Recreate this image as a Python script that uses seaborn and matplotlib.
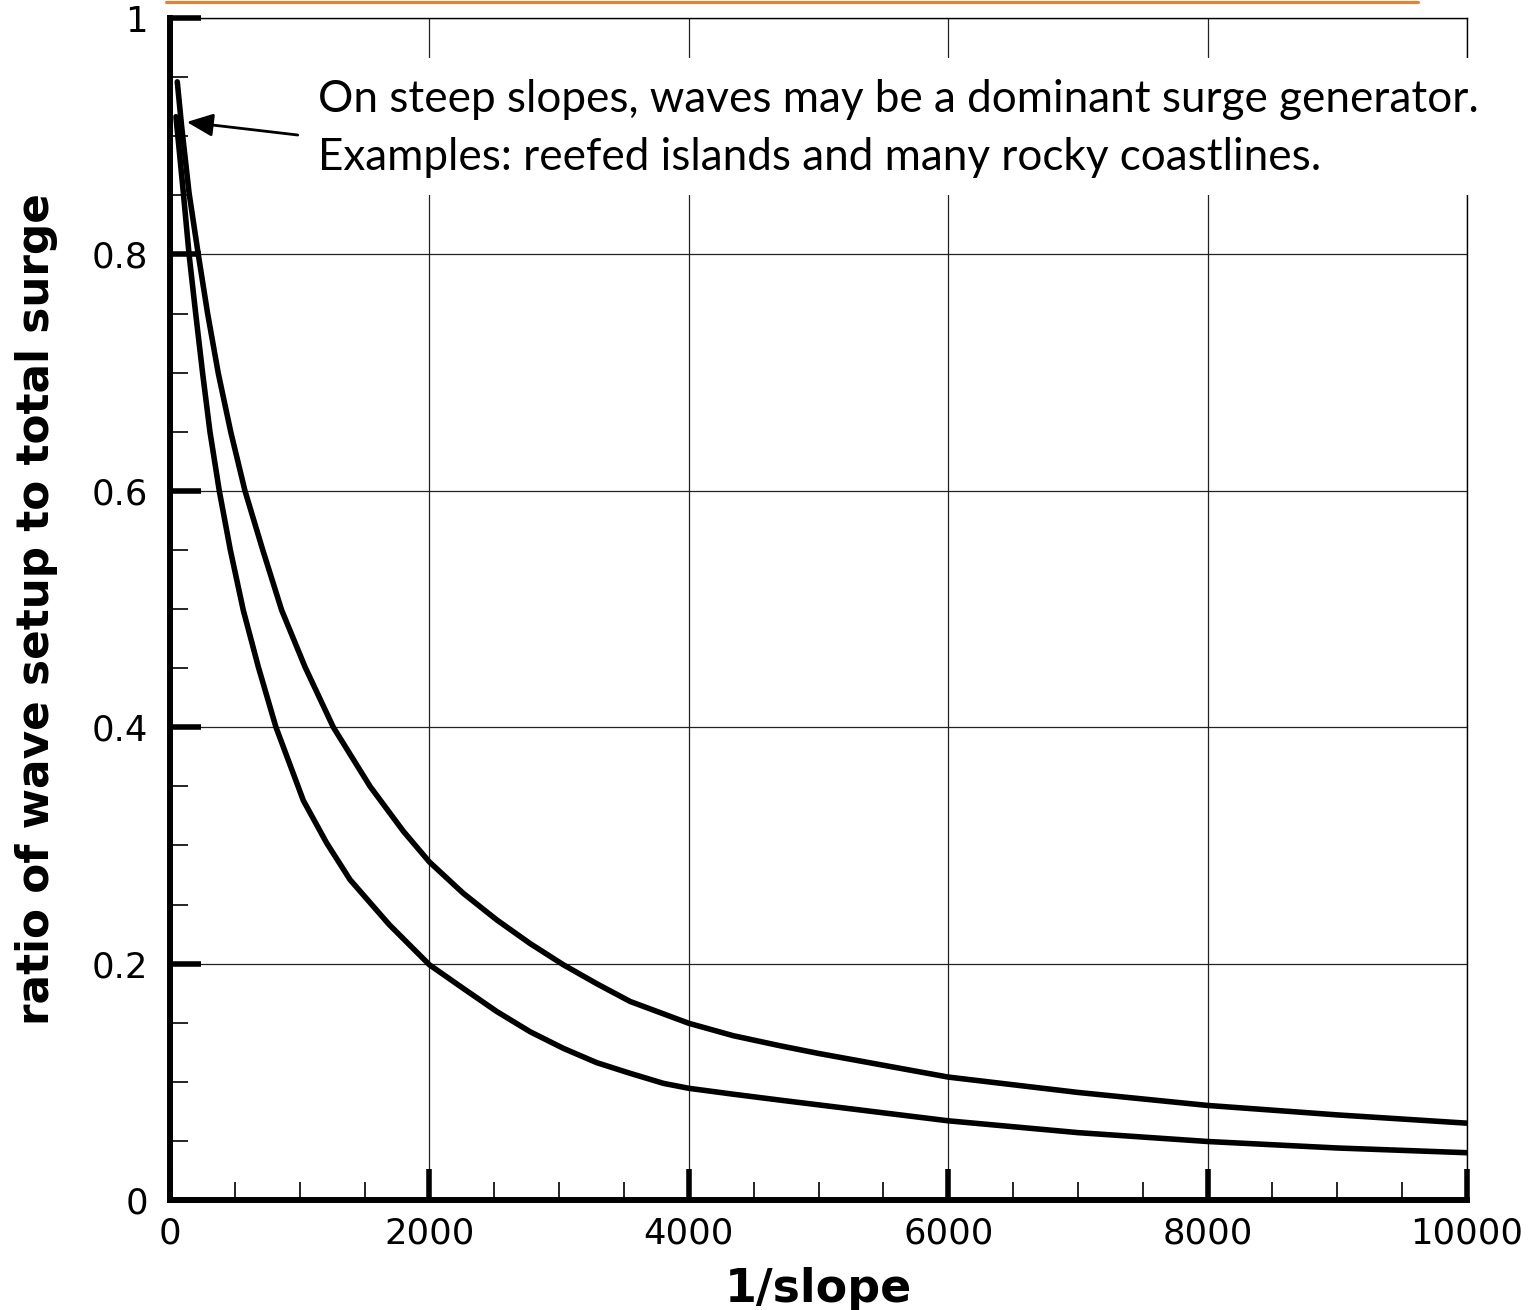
import matplotlib
matplotlib.use('Agg')
import matplotlib.pyplot as plt
import seaborn as sns
import numpy as np
import pandas as pd
from matplotlib.lines import Line2D
from matplotlib.patches import Rectangle
from matplotlib.ticker import MultipleLocator, FixedLocator, FixedFormatter

# values
upper_x = [56, 90, 147, 218, 290, 373, 468, 578, 715, 861, 1041, 1259, 1542, 1799,
           2000, 2261, 2519, 2776, 3033, 3290, 3547, 4000, 4343, 4703,
           5000, 6000, 7000, 8000, 9000, 10000]
upper_y = [0.946, 0.908, 0.852, 0.800, 0.750, 0.699, 0.650, 0.600, 0.550, 0.499, 0.451, 0.400,
           0.350, 0.312, 0.286, 0.2595, 0.237, 0.217, 0.199, 0.183, 0.168, 0.1495, 0.139, 0.1305,
           0.124, 0.104, 0.091, 0.080, 0.072, 0.065]

lower_x = [46, 103, 147, 198, 252, 308, 380, 465, 565, 681, 817, 1028, 1208, 1388, 1690,
           2000, 2261, 2519, 2776, 3033, 3290, 3547, 3804, 4000, 4343, 4703,
           5000, 6000, 7000, 8000, 9000, 10000]
lower_y = [0.9165, 0.852, 0.800, 0.750, 0.699, 0.650, 0.600, 0.550, 0.499, 0.451, 0.400, 0.338,
           0.302, 0.271, 0.233, 0.199, 0.179, 0.1595, 0.1424, 0.1283, 0.1162, 0.1072, 0.0987,
           0.0945, 0.0895, 0.0845, 0.0805, 0.067, 0.057, 0.0495, 0.044, 0.040]

x_ticks = [0, 2000, 4000, 6000, 8000, 10000]
x_tick_labels = ['0', '2000', '4000', '6000', '8000', '10000']
y_ticks = [0, 0.2, 0.4, 0.6, 0.8, 1.0]
y_tick_labels = ['0', '0.2', '0.4', '0.6', '0.8', '1']

note_lines = ['On steep slopes, waves may be a dominant surge generator.',
              'Examples: reefed islands and many rocky coastlines.']

sns.set_style('ticks')
plt.rcParams['font.family'] = ['DejaVu Sans']
plt.rcParams['text.color'] = 'black'
plt.rcParams['axes.labelcolor'] = 'black'
plt.rcParams['xtick.color'] = 'black'
plt.rcParams['ytick.color'] = 'black'

fig = plt.figure(figsize=(15.37, 13.10), dpi=100)
ax = fig.add_axes([170 / 1537, 1 - 1200 / 1310, (1467 - 170) / 1537, (1200 - 18) / 1310])

df_up = pd.DataFrame({'slope': upper_x, 'ratio': upper_y})
df_lo = pd.DataFrame({'slope': lower_x, 'ratio': lower_y})
sns.lineplot(data=df_up, x='slope', y='ratio', color='black', linewidth=4, ax=ax, zorder=5)
sns.lineplot(data=df_lo, x='slope', y='ratio', color='black', linewidth=4, ax=ax, zorder=5)

ax.set_xlim(0, 10000)
ax.set_ylim(0, 1)

ax.xaxis.set_major_locator(FixedLocator(x_ticks))
ax.xaxis.set_major_formatter(FixedFormatter(x_tick_labels))
ax.yaxis.set_major_locator(FixedLocator(y_ticks))
ax.yaxis.set_major_formatter(FixedFormatter(y_tick_labels))
ax.xaxis.set_minor_locator(MultipleLocator(500))
ax.yaxis.set_minor_locator(MultipleLocator(0.05))

ax.tick_params(which='major', direction='in', length=22, width=4, color='black',
               labelcolor='black', labelsize=25.5, pad=16)
ax.tick_params(axis='x', which='major', pad=12)
ax.tick_params(which='minor', direction='in', length=13, width=1.2, color='black')

ax.grid(True, which='major', color='#222222', linewidth=0.9)

for side in ['left', 'bottom']:
    ax.spines[side].set_linewidth(4.3)
    ax.spines[side].set_color('black')
for side in ['top', 'right']:
    ax.spines[side].set_linewidth(1.0)
    ax.spines[side].set_color('black')

ax.set_xlabel('1/slope', fontsize=33, fontweight='bold', labelpad=12, color='black')
ax.set_ylabel('ratio of wave setup to total surge', fontsize=31.5, fontweight='bold',
              labelpad=24, color='black')

# white text box laid over the grid
ax.add_patch(Rectangle((1002, 0.850), 9300, 0.116, facecolor='white', edgecolor='none',
                       zorder=3, clip_on=False))
ax.text(1141, 0.9205, note_lines[0], fontsize=31.7, family=['Lato', 'DejaVu Sans'],
        va='baseline', ha='left', zorder=4, color='black')
ax.text(1141, 0.8714, note_lines[1], fontsize=31.7, family=['Lato', 'DejaVu Sans'],
        va='baseline', ha='left', zorder=4, color='black')
ax.annotate('', xy=(129, 0.912), xytext=(985, 0.901),
            arrowprops=dict(arrowstyle='-|>,head_length=0.8,head_width=0.35',
                            color='black', lw=2, mutation_scale=20, shrinkA=0, shrinkB=0),
            zorder=4)

# orange rule across the top
fig.add_artist(Line2D([166 / 1537, 1418 / 1537], [1 - 1.5 / 1310] * 2,
                      color='#ED7D31', linewidth=2.2))

plt.savefig('out.png', dpi=100)
plt.close()
